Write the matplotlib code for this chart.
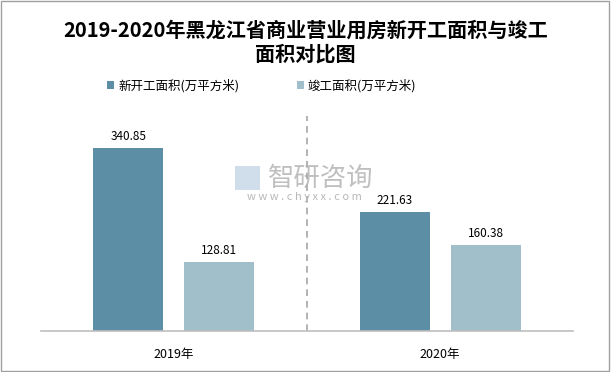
import numpy as np
import matplotlib.pyplot as plt
from matplotlib.patches import Rectangle

plt.rcParams['font.family'] = ['Noto Sans CJK SC', 'DejaVu Sans']

# 数据
anos = ['2019年', '2020年']
novos = [340.85, 221.63]
concluidos = [128.81, 160.38]
nomes = ['新开工面积(万平方米)', '竣工面积(万平方米)']
cores = ['#5C8FA6', '#A1BECB']

fig = plt.figure(figsize=(6.11, 3.72), dpi=100)
ax = fig.add_axes([0.067, 0.110, 0.871, 0.578])

x = np.arange(len(anos))
w = 0.263
desl = 0.171
b1 = ax.bar(x - desl, novos, w, color=cores[0], label=nomes[0])
b2 = ax.bar(x + desl, concluidos, w, color=cores[1], label=nomes[1])

for barras, vals in [(b1, novos), (b2, concluidos)]:
    for b, v in zip(barras, vals):
        ax.text(b.get_x() + b.get_width() / 2, v + 9, f'{v:.2f}',
                ha='center', va='bottom', fontsize=8.5, color='#000000')

ax.axvline(0.5, color='#A6A6A6', linestyle=(0, (4, 3)), linewidth=1.2)
ax.set_xlim(-0.5, 1.5)
ax.set_ylim(0, 400)
ax.set_xticks(x)
ax.set_xticklabels(anos, fontsize=9)
ax.tick_params(axis='x', length=0, pad=12)
ax.set_yticks([])
for s in ['top', 'right', 'left']:
    ax.spines[s].set_visible(False)
ax.spines['bottom'].set_color('#BFBFBF')
ax.spines['bottom'].set_linewidth(1.2)

fig.text(0.5, 0.887, '2019-2020年黑龙江省商业营业用房新开工面积与竣工\n面积对比图',
         ha='center', va='center', fontsize=14.5, fontweight='bold',
         linespacing=1.15)

fig.legend(handles=[b1, b2], labels=nomes, loc='center', ncol=2,
           bbox_to_anchor=(0.428, 0.77), frameon=False, fontsize=9,
           handlelength=0.6, handleheight=0.6, handletextpad=0.3,
           columnspacing=4.6)

# marca d'água
fig.text(0.525, 0.52, '智研咨询', ha='center', va='center', fontsize=19,
         color='#B0B0B0', alpha=0.8)
fig.patches.append(Rectangle((0.385, 0.49), 0.04, 0.065, transform=fig.transFigure,
                             facecolor='#C5D6E6', edgecolor='none', alpha=0.8))
fig.text(0.498, 0.47, 'w w w . c h y x x . c o m', ha='center', va='center',
         fontsize=8, color='#B8B8B8')

# moldura
fig.patches.append(Rectangle((0.002, 0.003), 0.995, 0.993, transform=fig.transFigure,
                             fill=False, edgecolor='#A0A0A0', linewidth=1))

fig.savefig('out.png', dpi=100)
